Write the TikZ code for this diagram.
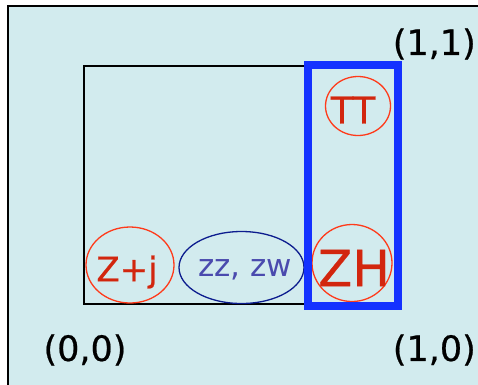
\documentclass[tikz,border=0pt]{standalone}
\usepackage{fontspec}
\setmainfont{DejaVu Sans}
\newfontfamily\heavy[FakeBold=0.6]{DejaVu Sans}
\usepackage{xcolor}
\usepackage{tikz}
\usetikzlibrary{shapes.geometric,positioning}
\definecolor{paper}{HTML}{D2EBEE}
\definecolor{tred}{HTML}{D2260E}
\definecolor{ored}{HTML}{FF3A1A}
\definecolor{navy}{HTML}{0C1C8E}
\definecolor{zblue}{HTML}{4A4AAE}
\definecolor{boxblue}{HTML}{1432FF}
\tikzset{
  region/.style={
    ellipse, draw=#1, line width=1.3pt, inner sep=0pt
  },
  region/.default=ored,
  tag/.style={
    text=#1, inner sep=0pt
  },
  tag/.default=tred,
  corner/.style={
    font=\heavy\fontsize{35}{35}\selectfont, text=black, inner sep=0pt
  },
}

\begin{document}
\begin{tikzpicture}[x=1pt,y=-1pt]
  \useasboundingbox (0,0) rectangle (478,384);
  % Paper and frame
  \fill[paper] (8,6) rectangle (480,386);
  \draw[line width=2pt] (8,386) -- (8,6) -- (480,6);

  % Unit square
  \draw[line width=1.3pt] (305,66) -- (84,66) -- (84,304) -- (305,304);

  % Regions
  \node[region, minimum width=88pt, minimum height=76pt] (zj) at (130,265) {};
  \node[region=navy, minimum width=125pt, minimum height=72pt] (zz) at (241.5,267.5) {};
  \node[region, minimum width=80pt, minimum height=77pt] (zh) at (352,263) {};
  \node[region, minimum width=65pt, minimum height=59pt] (tt) at (358,106) {};

  \node[tag, font=\heavy\fontsize{34}{34}\selectfont] (zjtext) at (127,272) {Z+j};
  \node[tag=zblue, font=\fontsize{31}{31}\selectfont] (zztext) at (245,270) {zz, zw};
  \node[tag, font=\heavy\fontsize{50}{50}\selectfont] (zhtext) at (354,268) {ZH};
  \node[tag, font=\heavy\fontsize{37}{37}\selectfont] (tttext) at (353,110) {TT};

  % Highlight
  \draw[boxblue, line width=8pt] (308,64.5) rectangle (398,306);

  % Corner labels
  \node[corner, anchor=east] (c11) at (476,44) {(1,1)};
  \node[corner] (c00) at (85,350) {(0,0)};
  \node[corner, anchor=east] (c10) at (476,350) {(1,0)};
\end{tikzpicture}
\end{document}
